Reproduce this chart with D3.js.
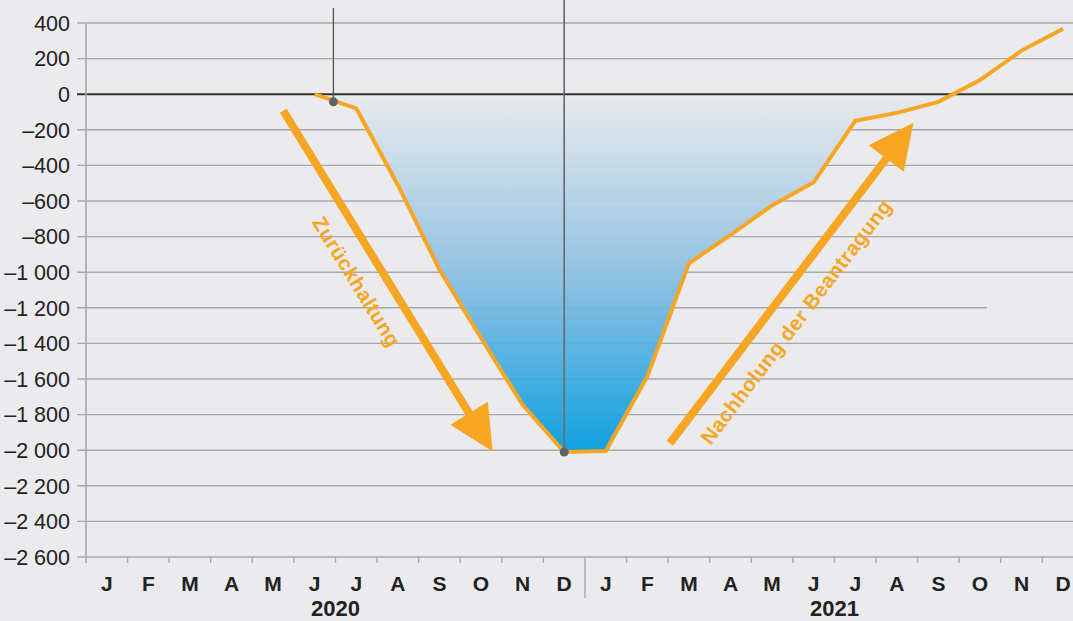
<!DOCTYPE html>
<html>
<head>
<meta charset="utf-8">
<script src="https://cdn.jsdelivr.net/npm/d3@7"></script>
<style>
  html, body { margin: 0; padding: 0; background: #ebebed; }
  svg { display: block; }
</style>
</head>
<body>
<svg id="chart" width="1073" height="621"></svg>
<script>
// ---------------- data ----------------
const monthLabels = ["J","F","M","A","M","J","J","A","S","O","N","D",
                     "J","F","M","A","M","J","J","A","S","O","N","D"];
const yearLabels = ["2020", "2021"];
// series: month index (0 = Jan 2020) and value
const seriesMonths = [5, 6, 7, 8, 9, 10, 11, 12, 13, 14, 15, 16, 17, 18, 19, 20, 21, 22, 23];
const seriesValues = [0, -80, -510, -985, -1370, -1745, -2010, -2005, -1585, -950, -790, -625, -495, -150, -105, -43, 79, 245, 368];
const yTicks = [400, 200, 0, -200, -400, -600, -800, -1000, -1200, -1400, -1600, -1800, -2000, -2200, -2400, -2600];
// marker points (month position, value) and the value their vertical line reaches up to
const markerMonths = [5.95, 11.5];
const markerValues = [-43, -2010];
const markerTops = [484, 530];
// annotation arrows in data units
const arrowStartMonths = [4.745, 14.04];
const arrowStartValues = [-93, -1961];
const arrowEndMonths = [9.78, 19.9];
const arrowEndValues = [-2008, -160];
const arrowTexts = ["Zurückhaltung", "Nachholung der Beantragung"];
const arrowTextPos = [0.46, 0.43];

// ---------------- layout ----------------
const W = 1073, H = 621;
const left = 86, monthW = 41.58;
const yTop = 23, yBottom = 557;
const orange = "#f6a623";
const font = "'Liberation Sans', Arial, Helvetica, sans-serif";

const svg = d3.select("#chart");
const x = d3.scaleLinear().domain([0, 24]).range([left, left + 24 * monthW]);
const y = d3.scaleLinear().domain([-2600, 400]).range([yBottom, yTop]);

const loc = d3.formatLocale({decimal: ",", thousands: "\u00a0", grouping: [3], currency: ["", "€"], minus: "\u2013"});
const fmt = loc.format(",d");

svg.append("rect").attr("width", W).attr("height", H).attr("fill", "#ebebed");

const defs = svg.append("defs");
const grad = defs.append("linearGradient").attr("id", "fillGrad")
  .attr("gradientUnits", "userSpaceOnUse")
  .attr("x1", 0).attr("x2", 0).attr("y1", y(0)).attr("y2", y(-2010));
grad.append("stop").attr("offset", 0).attr("stop-color", "#e8eaee");
grad.append("stop").attr("offset", 0.5).attr("stop-color", "#8cbfe2");
grad.append("stop").attr("offset", 1).attr("stop-color", "#009ce0");
defs.append("clipPath").attr("id", "belowZero").append("rect")
  .attr("x", 0).attr("y", y(0)).attr("width", W).attr("height", yBottom - y(0));

// grid lines (with left tick extension)
svg.append("g").selectAll("line").data(yTicks.filter(d => d !== 0)).join("line")
  .attr("x1", left - 9)
  .attr("x2", d => d === -1200 ? x(21.67) : W)
  .attr("y1", d => y(d)).attr("y2", d => y(d))
  .attr("stroke", "#a8a8ab").attr("stroke-width", 1.4);

// y axis labels
svg.append("g").selectAll("text").data(yTicks).join("text")
  .attr("x", 70).attr("y", d => y(d)).attr("dy", "0.36em")
  .attr("text-anchor", "end")
  .attr("font-family", font).attr("font-size", 21.5).attr("fill", "#222")
  .text(d => fmt(d));

// area fill
const idx = d3.range(seriesMonths.length);
const area = d3.area()
  .x(i => x(seriesMonths[i] + 0.5))
  .y0(y(0))
  .y1(i => y(seriesValues[i]));
svg.append("path").datum(idx)
  .attr("d", area)
  .attr("clip-path", "url(#belowZero)")
  .attr("fill", "url(#fillGrad)")
  .attr("fill-opacity", 0.93);

// zero line
svg.append("line").attr("x1", left - 9).attr("x2", W)
  .attr("y1", y(0)).attr("y2", y(0))
  .attr("stroke", "#333").attr("stroke-width", 2);

// y axis line
svg.append("line").attr("x1", left).attr("x2", left)
  .attr("y1", yTop).attr("y2", yBottom + 6)
  .attr("stroke", "#a8a8ab").attr("stroke-width", 1.6);

// x ticks
svg.append("g").selectAll("line").data(d3.range(1, 25)).join("line")
  .attr("x1", d => x(d)).attr("x2", d => x(d))
  .attr("y1", yBottom).attr("y2", d => d === 12 ? 598 : yBottom + 6)
  .attr("stroke", "#a8a8ab").attr("stroke-width", 1.4);

// month labels
svg.append("g").selectAll("text").data(monthLabels).join("text")
  .attr("x", (d, i) => x(i + 0.5)).attr("y", 591)
  .attr("text-anchor", "middle")
  .attr("font-family", font).attr("font-weight", "bold").attr("font-size", 21)
  .attr("fill", "#222")
  .text(d => d);

// year labels
svg.append("g").selectAll("text").data(yearLabels).join("text")
  .attr("x", (d, i) => x(6 + 12 * i)).attr("y", 616)
  .attr("text-anchor", "middle")
  .attr("font-family", font).attr("font-weight", "bold").attr("font-size", 22)
  .attr("fill", "#222")
  .text(d => d);

// marker vertical lines
svg.append("g").selectAll("line").data(markerMonths).join("line")
  .attr("x1", d => x(d)).attr("x2", d => x(d))
  .attr("y1", (d, i) => y(markerTops[i])).attr("y2", (d, i) => y(markerValues[i]))
  .attr("stroke", (d, i) => i === 0 ? "#555" : "#6a6d72")
  .attr("stroke-width", (d, i) => i === 0 ? 1.3 : 1.7);

// series line
const line = d3.line()
  .x(i => x(seriesMonths[i] + 0.5))
  .y(i => y(seriesValues[i]));
svg.append("path").datum(idx)
  .attr("d", line)
  .attr("fill", "none")
  .attr("stroke", orange).attr("stroke-width", 4)
  .attr("stroke-linejoin", "miter");

// marker dots
svg.append("g").selectAll("circle").data(markerMonths).join("circle")
  .attr("cx", d => x(d)).attr("cy", (d, i) => y(markerValues[i]))
  .attr("r", 4.5).attr("fill", "#5e6166");

// arrows
const headL = 45, headW = 44, shaftW = 8;
arrowTexts.forEach((txt, i) => {
  const x0 = x(arrowStartMonths[i]), y0 = y(arrowStartValues[i]);
  const x1 = x(arrowEndMonths[i]), y1 = y(arrowEndValues[i]);
  const dx = x1 - x0, dy = y1 - y0, len = Math.hypot(dx, dy);
  const ux = dx / len, uy = dy / len;
  const px = -uy, py = ux;
  const bx = x1 - ux * headL, by = y1 - uy * headL;
  svg.append("line")
    .attr("x1", x0).attr("y1", y0)
    .attr("x2", bx + ux * 4).attr("y2", by + uy * 4)
    .attr("stroke", orange).attr("stroke-width", shaftW);
  svg.append("path")
    .attr("d", `M${x1},${y1}L${bx + px * headW / 2},${by + py * headW / 2}L${bx - px * headW / 2},${by - py * headW / 2}Z`)
    .attr("fill", orange);
  const ang = Math.atan2(dy, dx) * 180 / Math.PI;
  const th = Math.atan2(dy, dx);
  const upx = Math.sin(th), upy = -Math.cos(th);
  const t = arrowTextPos[i] * len;
  const cx = x0 + ux * t - upx * 27, cy = y0 + uy * t - upy * 27;
  svg.append("text")
    .attr("transform", `translate(${cx},${cy}) rotate(${ang})`)
    .attr("text-anchor", "middle").attr("dy", "0.35em")
    .attr("font-family", font).attr("font-weight", "bold").attr("font-size", 20.5)
    .attr("letter-spacing", 0.5)
    .attr("fill", orange)
    .text(txt);
});
</script>
</body>
</html>
